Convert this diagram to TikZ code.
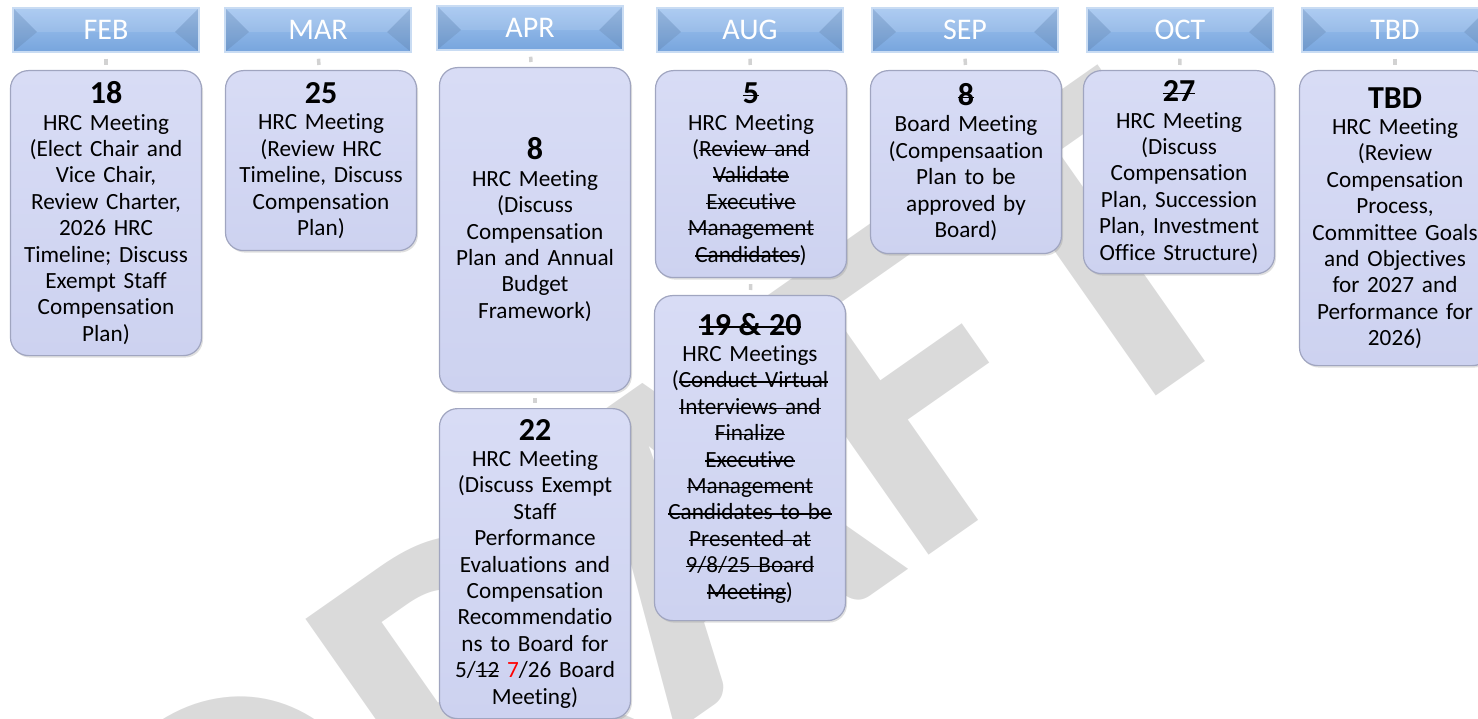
\documentclass[tikz,border=0pt]{standalone}
\usepackage{fontspec}
\setmainfont{Carlito}[Ligatures=NoCommon]
\usepackage{xcolor}
\usetikzlibrary{shadows}
\definecolor{hdrtop}{HTML}{A3C5F0}
\definecolor{hdrbot}{HTML}{77A5DD}
\definecolor{hdredge}{HTML}{C9DCF3}
\definecolor{boxtop}{HTML}{D8DCF5}
\definecolor{boxbot}{HTML}{CDD2F0}
\definecolor{boxedge}{HTML}{A0A5C0}
\definecolor{wmark}{HTML}{DADADA}
\newcommand{\daynum}[1]{{\fontsize{32}{26.4}\selectfont\bfseries #1}}
\newsavebox{\strkbox}
\newcommand{\strk}[1]{\leavevmode\sbox{\strkbox}{#1}\rlap{\usebox{\strkbox}}\rule[0.23em]{\wd\strkbox}{1.4pt}}

\begin{document}
\begin{tikzpicture}[x=1pt,y=-1pt,
  month/.style={draw=hdredge, line width=1.5pt, top color=hdrtop, bottom color=hdrbot,
    minimum width=186pt, minimum height=44pt, inner sep=0pt, text=white,
    font=\fontsize{30}{30}\selectfont,
    path picture={
      \fill[black, opacity=.08] (path picture bounding box.north west) -- ([xshift=24pt, yshift=-2pt]path picture bounding box.west) -- (path picture bounding box.south west) -- cycle;
      \fill[black, opacity=.08] (path picture bounding box.north east) -- ([xshift=-24pt, yshift=-2pt]path picture bounding box.east) -- (path picture bounding box.south east) -- cycle;
      \fill[white, opacity=.12] (path picture bounding box.north west) -- ([xshift=24pt, yshift=-2pt]path picture bounding box.west) -- ([xshift=-24pt, yshift=-2pt]path picture bounding box.east) -- (path picture bounding box.north east) -- cycle;
    }},
  event/.style={draw=boxedge, line width=1.2pt, top color=boxtop, bottom color=boxbot,
    rounded corners=18pt, minimum width=191pt, text width=185pt, inner sep=3pt,
    align=center, anchor=north, font=\fontsize{23.2}{26.4}\selectfont,
    drop shadow={shadow xshift=1.5pt, shadow yshift=-2pt, opacity=.25}},
  stub/.style={draw=gray!35, line width=3.5pt, shorten <=6pt, shorten >=5pt},
  wmarktext/.style={text=wmark, font=\fontsize{470}{470}\selectfont\bfseries, rotate=35, anchor=base east, inner sep=0pt}]
\useasboundingbox (0,0) rectangle (1478,719);
\node[wmarktext] (draft) at (1276,312) {DRAFT};

\node[month] (hfeb) at (106,30) {FEB};
\node[month] (hmar) at (318,30) {MAR};
\node[month] (hapr) at (530,28) {APR};
\node[month] (haug) at (750,30) {AUG};
\node[month] (hsep) at (965,30) {SEP};
\node[month] (hoct) at (1180,30) {OCT};
\node[month] (htbd) at (1395,30) {TBD};

\node[event, minimum height=285pt] (feb18) at (106,70) {\daynum{18}\\ HRC Meeting\\ (Elect Chair and\\ Vice Chair,\\ Review Charter,\\ 2026 HRC\\ Timeline; Discuss\\ Exempt Staff\\ Compensation\\ Plan)};
\node[event, minimum height=180pt] (mar25) at (321,70) {\daynum{25}\\ HRC Meeting\\ (Review HRC\\ Timeline, Discuss\\ Compensation\\ Plan)};
\node[event, minimum height=324pt] (apr8) at (535,67) {\daynum{8}\\ HRC Meeting\\ (Discuss\\ Compensation\\ Plan and Annual\\ Budget\\ Framework)};
\node[event, minimum height=310pt] (apr22) at (535,408) {\daynum{22}\\ HRC Meeting\\ (Discuss Exempt\\ Staff\\ Performance\\ Evaluations and\\ Compensation\\ Recommendatio\\ ns to Board for\\ 5/\strk{12} {\color{red}7}/26 Board\\ Meeting)};
\node[event, minimum height=207pt] (aug5) at (751,70) {\daynum{\strk{5}}\\ HRC Meeting\\ (\strk{Review and}\\ \strk{Validate}\\ \strk{Executive}\\ \strk{Management}\\ \strk{Candidates})};
\node[event, minimum height=325pt] (aug19) at (750,295) {\daynum{\strk{19 \& 20}}\\ HRC Meetings\\ (\strk{Conduct Virtual}\\ \strk{Interviews and}\\ \strk{Finalize}\\ \strk{Executive}\\ \strk{Management}\\ \strk{Candidates to be}\\ \strk{Presented at}\\ \strk{9/8/25 Board}\\ \strk{Meeting})};
\node[event, minimum height=183pt] (sep8) at (966,70) {\daynum{\strk{8}}\\ Board Meeting\\ (Compensaation\\ Plan to be\\ approved by\\ Board)};
\node[event, minimum height=203pt] (oct27) at (1179,70) {\daynum{\strk{27}}\\ HRC Meeting\\ (Discuss\\ Compensation\\ Plan, Succession\\ Plan, Investment\\ Office Structure)};
\node[event, minimum height=295pt] (tbd) at (1395,70) {\daynum{TBD}\\ HRC Meeting\\ (Review\\ Compensation\\ Process,\\ Committee Goals\\ and Objectives\\ for 2027 and\\ Performance for\\ 2026)};

\draw[stub] (hfeb) -- (feb18);
\draw[stub] (hmar) -- (mar25);
\draw[stub] (hapr) -- (apr8);
\draw[stub] (apr8) -- (apr22);
\draw[stub] (haug) -- (aug5);
\draw[stub] (aug5) -- (aug19);
\draw[stub] (hsep) -- (sep8);
\draw[stub] (hoct) -- (oct27);
\draw[stub] (htbd) -- (tbd);
\end{tikzpicture}
\end{document}
